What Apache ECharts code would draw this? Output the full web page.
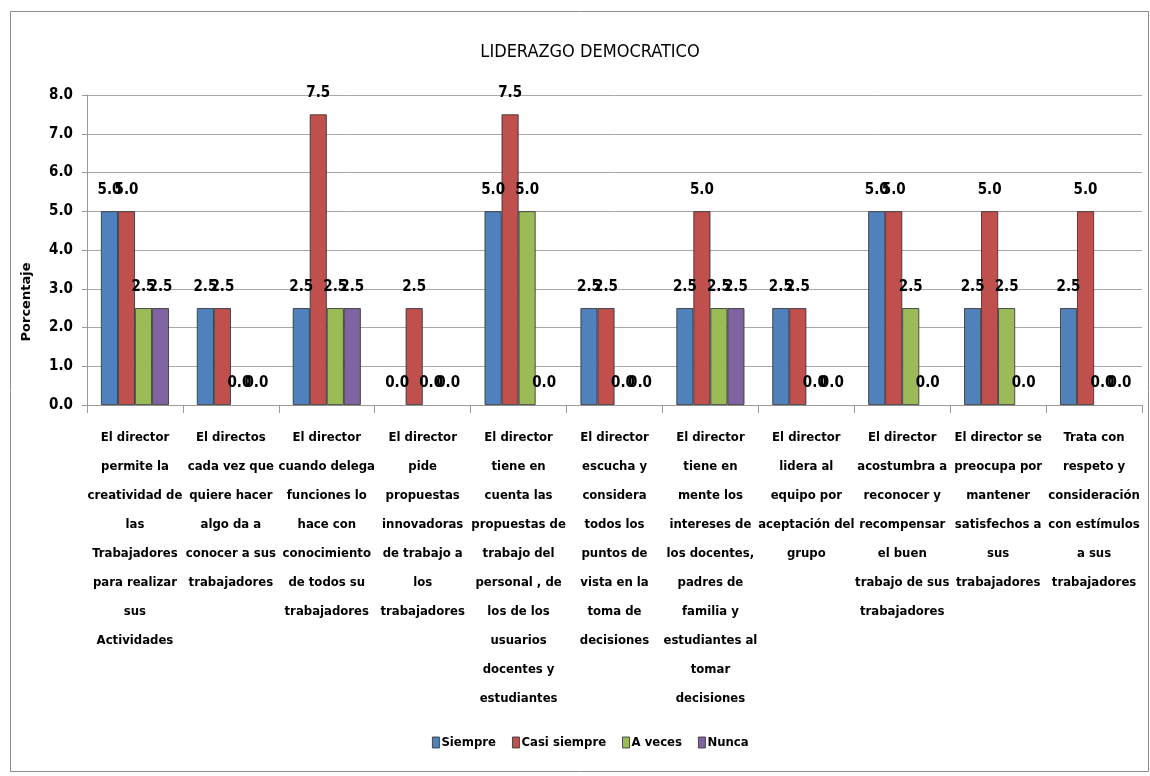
<!DOCTYPE html>
<html>
<head>
<meta charset="utf-8">
<script src="https://cdn.jsdelivr.net/npm/echarts@6/dist/echarts.min.js"></script>
<style>
  html, body { margin: 0; padding: 0; background: #fff; }
  #chart { width: 1150px; height: 776px; }
</style>
</head>
<body>
<div id="chart"></div>
<script>
const categories = [
  'El director\npermite la\ncreatividad de\nlas\nTrabajadores\npara realizar\nsus\nActividades',
  'El directos\ncada vez que\nquiere hacer\nalgo da a\nconocer a sus\ntrabajadores',
  'El director\ncuando delega\nfunciones lo\nhace con\nconocimiento\nde todos su\ntrabajadores',
  'El director\npide\npropuestas\ninnovadoras\nde trabajo a\nlos\ntrabajadores',
  'El director\ntiene en\ncuenta las\npropuestas de\ntrabajo del\npersonal , de\nlos de los\nusuarios\ndocentes y\nestudiantes',
  'El director\nescucha y\nconsidera\ntodos los\npuntos de\nvista en la\ntoma de\ndecisiones',
  'El director\ntiene en\nmente los\nintereses de\nlos docentes,\npadres de\nfamilia y\nestudiantes al\ntomar\ndecisiones',
  'El director\nlidera al\nequipo por\naceptación del\ngrupo',
  'El director\nacostumbra a\nreconocer y\nrecompensar\nel buen\ntrabajo de sus\ntrabajadores',
  'El director se\npreocupa por\nmantener\nsatisfechos a\nsus\ntrabajadores',
  'Trata con\nrespeto y\nconsideración\ncon estímulos\na sus\ntrabajadores'
];
const siempre     = [5.0, 2.5, 2.5, 0.0, 5.0, 2.5, 2.5, 2.5, 5.0, 2.5, 2.5];
const casiSiempre = [5.0, 2.5, 7.5, 2.5, 7.5, 2.5, 5.0, 2.5, 5.0, 5.0, 5.0];
const aVeces      = [2.5, 0.0, 2.5, 0.0, 5.0, 0.0, 2.5, 0.0, 2.5, 2.5, 0.0];
const nunca       = [2.5, 0.0, 2.5, 0.0, 0.0, 0.0, 2.5, 0.0, 0.0, 0.0, 0.0];
const yTicks = [0, 8, 1]; // min, max, interval

const FONT = '"DejaVu Sans Condensed", "Liberation Sans Narrow", sans-serif';

const chart = echarts.init(document.getElementById('chart'));

function makeSeries(name, data, color) {
  return {
    name: name,
    type: 'bar',
    // zero bars have no visible outline in the original
    data: data.map(v => v === 0 ? { value: v, itemStyle: { borderWidth: 0 } } : v),
    barWidth: 17,
    barGap: '0%',
    itemStyle: { color: color, borderColor: '#2b2b2b', borderWidth: 0.8 },
    label: {
      show: true,
      position: 'top',
      distance: 14,
      formatter: p => p.value.toFixed(1),
      fontFamily: FONT,
      fontWeight: 'bold',
      fontSize: 15,
      color: '#000'
    }
  };
}

chart.setOption({
  animation: false,
  textStyle: { fontFamily: FONT },
  title: {
    text: 'LIDERAZGO DEMOCRATICO',
    left: 585,
    textAlign: 'center',
    top: 38,
    textStyle: { fontFamily: FONT, fontSize: 18, fontWeight: 'normal', color: '#000' }
  },
  graphic: [{
    type: 'rect',
    shape: { x: 10.5, y: 11.5, width: 1138, height: 760 },
    style: { fill: 'none', stroke: '#8c8c8c', lineWidth: 1 },
    silent: true
  }, {
    type: 'text',
    x: 27,
    y: 302,
    rotation: Math.PI / 2,
    style: {
      text: 'Porcentaje',
      fontFamily: '"DejaVu Sans", sans-serif',
      fontSize: 13,
      fontWeight: 'bold',
      fill: '#000',
      align: 'center',
      verticalAlign: 'middle'
    },
    silent: true
  }],
  legend: {
    bottom: 22,
    left: 427,
    itemWidth: 7,
    itemHeight: 11,
    itemGap: 16,
    icon: 'rect',
    textStyle: { fontFamily: FONT, fontSize: 13, fontWeight: 'bold', color: '#000', padding: [0, 0, 0, -3] },
    itemStyle: { borderColor: '#2b2b2b', borderWidth: 0.8 },
    data: ['Siempre', 'Casi siempre', 'A veces', 'Nunca']
  },
  grid: { left: 87, right: 8, top: 95, bottom: 371 },
  xAxis: {
    type: 'category',
    data: categories,
    axisLine: { lineStyle: { color: '#9a9a9a' } },
    axisTick: { show: true, length: 8, alignWithLabel: false, lineStyle: { color: '#9a9a9a' } },
    axisLabel: {
      interval: 0,
      margin: 18,
      fontFamily: FONT,
      fontSize: 13,
      fontWeight: 'bold',
      lineHeight: 29,
      color: '#000',
      align: 'center'
    }
  },
  yAxis: {
    type: 'value',
    min: yTicks[0],
    max: yTicks[1],
    interval: yTicks[2],
    axisLine: { show: true, lineStyle: { color: '#9a9a9a' } },
    axisTick: { show: true, length: 5, lineStyle: { color: '#9a9a9a' } },
    splitLine: { lineStyle: { color: '#a8a8a8' } },
    axisLabel: {
      formatter: v => v.toFixed(1),
      fontFamily: FONT,
      fontSize: 15,
      fontWeight: 'bold',
      color: '#000',
      margin: 14
    }
  },
  series: [
    makeSeries('Siempre', siempre, '#4F81BD'),
    makeSeries('Casi siempre', casiSiempre, '#C0504D'),
    makeSeries('A veces', aVeces, '#9BBB59'),
    makeSeries('Nunca', nunca, '#8064A2')
  ]
});
</script>
</body>
</html>
